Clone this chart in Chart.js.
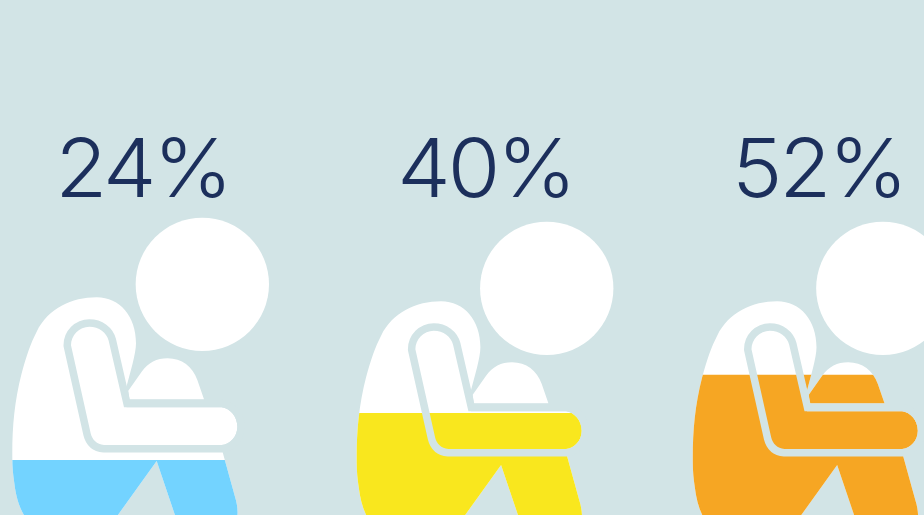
<!DOCTYPE html>
<html>
<head>
<meta charset="utf-8">
<script src="https://cdn.jsdelivr.net/npm/chart.js@4"></script>
<style>
html, body { margin: 0; padding: 0; background: #d2e4e6; overflow: hidden; }
#wrap { width: 924px; height: 515px; }
</style>
</head>
<body>
<div id="wrap"><canvas id="grafico"></canvas></div>
<script>
// dados
const categorias = ['A', 'B', 'C']
const valores = [24, 40, 52]
const cores = ['#73d3ff', '#f9e71e', '#f6a623']

const FUNDO = '#d2e4e6'
const TEXTO = '#1c2f5c'

// onde cada boneco fica na tela
const desvioX = [0, 344.4, 680.5]
const desvioY = [0, 4, 4]
const centroTexto = [142.5, 485.5, 818.5]
const baseTexto = 197

// desenho do boneco (coordenadas do icone, escala 3x)
const corpo = 'M37 780 C36 690 42 610 65 520 C80 465 92 430 110 395 C145 325 215 292 290 292 C360 292 408 350 408 430 C408 460 390 520 378 565 L380 640 L400 700 L665 700 L668 757 L705 890 C716 925 716 960 700 990 L540 990 L470 783 L325 985 L110 985 C70 960 50 910 43 850 C39 825 37 800 37 780 Z'
const joelho = 'M385 572 L425 515 C445 488 470 475 503 475 C545 475 578 500 592 540 L612 598 L388 598 Z'
const braco = 'M213 436 C213 405 238 380 268 380 C297 380 320 398 326 422 L372 622 L665 622 C690 625 712 650 712 680 C712 710 690 732 665 735 L312 735 C290 733 277 720 272 700 L215 445 Z'
const cabeca = 'M407 253 A200 200 0 1 1 807 253 A200 200 0 1 1 407 253 Z'

const paraTela = i => new DOMMatrix([1 / 3, 0, 0, 1 / 3, desvioX[i], 200 + desvioY[i]])

const pathBoneco = new Path2D()
pathBoneco.addPath(new Path2D(corpo))
pathBoneco.addPath(new Path2D(joelho))
pathBoneco.addPath(new Path2D(braco))

const noIcone = (ctx, i, fn) => {
	ctx.save()
	ctx.setTransform(ctx.getTransform().multiply(paraTela(i)))
	fn()
	ctx.restore()
}

const bonecos = {
	id: 'bonecos',
	beforeDatasetsDraw(chart) {
		const ctx = chart.ctx
		categorias.forEach((c, i) => noIcone(ctx, i, () => {
			ctx.fillStyle = '#ffffff'
			ctx.fill(pathBoneco)
			ctx.fill(new Path2D(cabeca))
		}))
	},
	// a barra so aparece dentro do boneco
	beforeDatasetDraw(chart, args) {
		const ctx = chart.ctx
		const i = args.index
		ctx.save()
		const clipPath = new Path2D()
		clipPath.addPath(pathBoneco, paraTela(i))
		ctx.clip(clipPath)
		ctx.translate(0, desvioY[i])
	},
	afterDatasetDraw(chart) {
		chart.ctx.restore()
	},
	afterDatasetsDraw(chart) {
		const ctx = chart.ctx
		categorias.forEach((c, i) => noIcone(ctx, i, () => {
			// contorno em volta do braco
			const fora = new Path2D('M-500 -900 H1500 V1500 H-500 Z')
			fora.addPath(new Path2D(braco))
			ctx.clip(fora, 'evenodd')
			ctx.strokeStyle = FUNDO
			ctx.lineWidth = 45
			ctx.lineJoin = 'round'
			ctx.stroke(new Path2D(braco))
		}))
		valores.forEach((v, i) => {
			ctx.save()
			ctx.fillStyle = TEXTO
			ctx.font = '350 81px Inter'
			ctx.letterSpacing = '-3px'
			ctx.textAlign = 'center'
			ctx.textBaseline = 'alphabetic'
			ctx.translate(centroTexto[i], baseTexto)
			ctx.scale(1.05, 1)
			ctx.fillText(v + '%', 0, 0)
			ctx.restore()
		})
	}
}

new Chart(document.getElementById('grafico'), {
	type: 'bar',
	data: {
		labels: categorias,
		datasets: valores.map((v, i) => ({
			data: categorias.map((c, j) => (j === i ? v : null)),
			backgroundColor: cores[i],
			barThickness: 335,
			grouped: false
		}))
	},
	options: {
		responsive: true,
		maintainAspectRatio: false,
		animation: false,
		layout: { padding: 0 },
		plugins: { legend: { display: false }, tooltip: { enabled: false } },
		scales: {
			x: { display: false },
			y: { display: false, min: 6.87, max: 168.3 }
		}
	},
	plugins: [bonecos]
})
</script>
</body>
</html>
